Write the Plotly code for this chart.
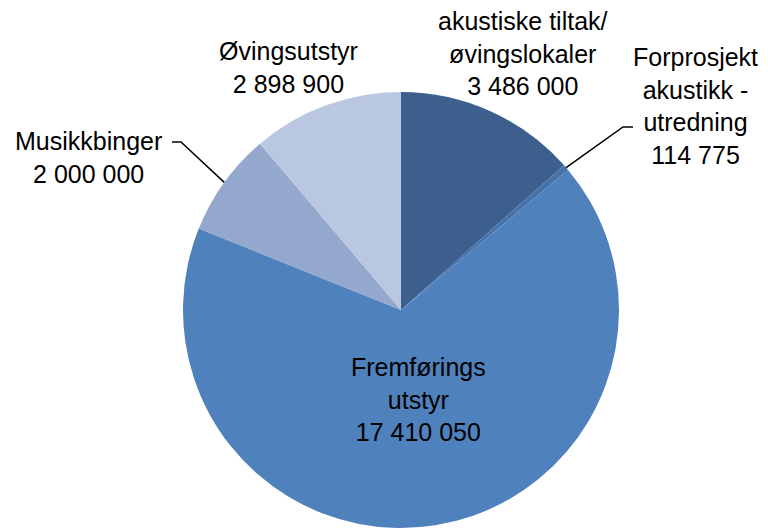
import math
import plotly.graph_objects as go

# ---- data ----
categories = ["akustiske tiltak/<br>øvingslokaler", "Forprosjekt<br>akustikk -<br>utredning",
              "Fremførings<br>utstyr", "Musikkbinger", "Øvingsutstyr"]
values = [3486000, 114775, 17410050, 2000000, 2898900]
value_labels = ["3 486 000", "114 775", "17 410 050", "2 000 000", "2 898 900"]
colors = ["#3C5F8E", "#4672AA", "#4F81BD", "#94A8CE", "#BAC7E0"]

W, H = 768, 530
cx, cy, R = 401, 310, 218  # pie centre / radius in px

fig = go.Figure(go.Pie(
    labels=[c.replace("<br>", " ") for c in categories],
    values=values,
    sort=False,
    direction="clockwise",
    rotation=0,
    marker=dict(colors=colors, line=dict(width=0)),
    textinfo="none",
    hoverinfo="label+value",
    domain=dict(x=[(cx - R) / W, (cx + R) / W], y=[(H - cy - R) / H, (H - cy + R) / H]),
    showlegend=False,
))

# label positions (px)
label_pos = [(523, 54), (695, 106), (418, 399), (88, 158), (288, 68)]
font = dict(family="Liberation Sans, Arial, sans-serif", size=25, color="#000000")
for cat, vl, (lx, ly) in zip(categories, value_labels, label_pos):
    fig.add_annotation(
        x=lx / W, y=1 - ly / H, xref="paper", yref="paper",
        text=f"{cat}<br>{vl}", showarrow=False, font=font, align="center",
        xanchor="center", yanchor="middle",
    )

# leader lines from slice edge (computed from data) to labels
total = sum(values)
cum = 0
mid_angles = []
for v in values:
    mid_angles.append((cum + v / 2) / total * 2 * math.pi)
    cum += v

leaders = {1: [(623, 127), (633, 127)], 3: [(181, 142), (172, 142)]}
for idx, pts in leaders.items():
    a = mid_angles[idx]
    ex, ey = cx + R * math.sin(a), cy - R * math.cos(a)
    allp = [(ex, ey)] + pts
    path = "M " + " L ".join(f"{x / W},{1 - y / H}" for x, y in allp)
    fig.add_shape(type="path", path=path, xref="paper", yref="paper",
                  line=dict(color="#000000", width=1.5))

fig.update_layout(
    width=W, height=H,
    margin=dict(l=0, r=0, t=0, b=0),
    paper_bgcolor="white", plot_bgcolor="white",
)
fig.write_html("out.html", config={"displayModeBar": False},
               post_script="document.body.style.margin='0';")
